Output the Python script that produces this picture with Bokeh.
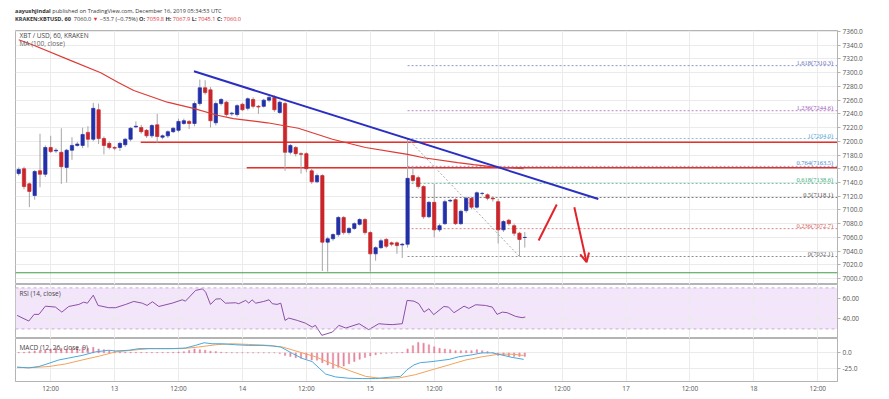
from bokeh.plotting import figure
from bokeh.layouts import column
from bokeh.models import (Range1d, FixedTicker, Span, Label, Div, Arrow, OpenHead,
                          ColumnDataSource, BoxAnnotation, PrintfTickFormatter)
from bokeh.embed import file_html
from bokeh.resources import INLINE

FONT = "Open Sans"

# ---------------- data (hours relative to Dec 13 00:00 UTC) ----------------
hours = list(range(-18, 78))
opens = [7153, 7160, 7138, 7121, 7157, 7152, 7191, 7186, 7184, 7162, 7187, 7194, 7194, 7213, 7203, 7246,
         7204, 7197, 7191, 7191, 7195, 7203, 7221, 7220, 7216, 7208, 7224, 7206, 7208, 7214, 7216, 7226,
         7229, 7226, 7255, 7278, 7275, 7227, 7255, 7257, 7240, 7239, 7254, 7248, 7261, 7251, 7251, 7260,
         7264, 7242, 7255, 7184, 7191, 7182, 7182, 7157, 7141, 7150, 7053, 7058, 7064, 7089, 7067, 7073,
         7079, 7086, 7067, 7036, 7045, 7057, 7052, 7052, 7049, 7050, 7150, 7147, 7134, 7090, 7111, 7071,
         7080, 7113, 7115, 7080, 7099, 7117, 7104, 7124, 7122, 7117, 7112, 7071, 7085, 7077, 7066, 7059.8]
highs = [7162, 7163, 7140, 7158, 7211, 7194, 7208, 7190, 7219, 7189, 7206, 7199, 7220, 7222, 7256, 7255,
         7207, 7200, 7193, 7199, 7205, 7221, 7229, 7224, 7218, 7225, 7240, 7210, 7216, 7221, 7233, 7233,
         7231, 7258, 7290, 7289, 7279, 7258, 7263, 7259, 7243, 7254, 7256, 7264, 7264, 7253, 7262, 7268,
         7267, 7259, 7258, 7196, 7193, 7184, 7184, 7160, 7153, 7152, 7061, 7066, 7091, 7091, 7075, 7082,
         7088, 7088, 7069, 7047, 7058, 7059, 7054, 7054, 7052, 7204, 7162, 7150, 7136, 7113, 7138, 7080,
         7115, 7116, 7117, 7100, 7119, 7119, 7127, 7126, 7124, 7120, 7116, 7085, 7087, 7080, 7068, 7067.9]
lows = [7150, 7130, 7104, 7115, 7133, 7148, 7183, 7183, 7138, 7140, 7173, 7192, 7190, 7191, 7200, 7196,
        7181, 7188, 7187, 7186, 7192, 7200, 7219, 7211, 7205, 7205, 7198, 7203, 7205, 7212, 7213, 7224,
        7218, 7222, 7252, 7268, 7220, 7223, 7252, 7236, 7237, 7236, 7244, 7245, 7248, 7240, 7249, 7257,
        7243, 7240, 7157, 7181, 7178, 7153, 7155, 7138, 7139, 7011, 7010, 7055, 7061, 7064, 7064, 7071,
        7077, 7064, 7010, 7026, 7043, 7044, 7047, 7036, 7030, 7045, 7140, 7131, 7087, 7088, 7060, 7068,
        7078, 7111, 7078, 7078, 7096, 7101, 7102, 7121, 7114, 7112, 7051, 7068, 7077, 7062, 7032.1, 7045.1]
closes = [7159, 7134, 7127, 7156, 7152, 7191, 7185, 7187, 7163, 7187, 7194, 7196, 7210, 7203, 7248, 7204,
          7194, 7191, 7190, 7197, 7203, 7219, 7222, 7214, 7208, 7223, 7207, 7208, 7214, 7219, 7229, 7230,
          7226, 7255, 7278, 7271, 7230, 7255, 7261, 7239, 7241, 7252, 7246, 7262, 7251, 7250, 7260, 7264,
          7246, 7257, 7184, 7194, 7182, 7181, 7160, 7141, 7150, 7053, 7058, 7064, 7089, 7067, 7073, 7080,
          7086, 7067, 7036, 7045, 7055, 7047, 7050, 7048, 7050, 7146, 7143, 7134, 7090, 7111, 7071, 7077,
          7112, 7114, 7080, 7098, 7117, 7104, 7125, 7124, 7117, 7116, 7071, 7083, 7080, 7066, 7057, 7060.0]

ma_hours = [-18, -15.2, -8.3, -2.6, 0.6, 3.6, 9.9, 14.8, 19.3, 22.3, 28.7, 34.5, 40.9, 47.1, 52.7, 55,
            58, 64.4, 67.4, 70.6, 76.8]
ma_values = [7348, 7340, 7318, 7300, 7286, 7274, 7257, 7248, 7238, 7233, 7227, 7219, 7203, 7191, 7184,
             7181, 7176, 7169, 7166, 7163, 7160]

rsi_hours = [-18.3, -16.1, -15.1, -14.2, -13.0, -11.1, -9.9, -8.6, -6.7, -5.8, -5.1, -4.0, -3.1, -1.1, 0.2,
             2.1, 3.6, 5.2, 6.1, 7.1, 8.3, 10.8, 12.7, 13.3, 15.2, 16.5, 17.1, 18.0, 19.0, 19.9, 20.8, 22.7,
             23.3, 24.6, 25.2, 25.8, 26.5, 28.0, 29.0, 29.6, 30.5, 31.2, 32.0, 32.7, 34.3, 35.8, 37.1, 37.7,
             38.9, 40.9, 42.1, 43.4, 45.9, 47.7, 49.6, 50.9, 52.1, 54.0, 54.9, 56.2, 57.1, 58.1, 59.0, 59.9,
             61.8, 62.7, 63.7, 65.6, 66.5, 67.8, 69.6, 70.9, 71.8, 72.8, 73.7, 75.3, 76.5, 77.1]
rsi_values = [43.2, 37.7, 44.2, 44.2, 52.2, 51.3, 46.4, 51.9, 53.9, 56.1, 55.1, 62.9, 52.9, 50.7, 50.7,
              53.9, 56.8, 55.1, 52.9, 56.5, 51.9, 55.1, 58.4, 57.1, 67.5, 69.1, 65.8, 53.9, 59.1, 59.4, 55.1,
              55.5, 54.6, 57.8, 55.1, 58.4, 55.1, 56.8, 58.4, 54.6, 53.9, 55.1, 38.3, 40.6, 38.3, 35.7, 31.8,
              33.5, 23.8, 27.0, 33.5, 30.9, 35.1, 29.3, 35.1, 34.5, 34.2, 35.1, 57.8, 57.1, 54.6, 46.4, 49.7,
              43.9, 51.9, 51.3, 45.8, 52.2, 50.0, 53.6, 52.9, 51.3, 44.2, 46.4, 45.8, 42.2, 41.0, 41.6]

macd_hours = [-18.3, -16.1, -14.2, -12.3, -10.5, -8.0, -6.1, -3.6, -1.1, 0.2, 2.7, 4.6, 7.7, 10.8, 13.3,
              15.2, 16.8, 18.3, 20.2, 22.7, 25.2, 27.7, 29.6, 31.2, 33.4, 35.2, 37.1, 38.4, 39.6, 41.5,
              44.0, 46.5, 49.0, 51.5, 53.7, 54.9, 56.2, 57.4, 59.0, 60.9, 62.8, 64.6, 67.1, 69.0, 70.9,
              72.8, 74.6, 76.8]
macd_values = [-22.9, -23.9, -21.8, -16.6, -11.4, -7.2, -4.1, 1.6, 4.2, 3.1, 4.2, 6.8, 6.8, 6.8, 7.8,
               12.0, 16.2, 14.6, 14.6, 13.0, 12.0, 12.0, 11.0, 9.4, -1.0, -8.8, -14.0, -24.4, -33.8, -38.5,
               -40.6, -41.1, -41.1, -39.0, -37.5, -27.0, -19.2, -15.6, -14.5, -12.5, -10.4, -6.2, -3.1,
               0.0, 0.0, -3.6, -7.2, -10.4]
signal_hours = [-18.3, -16.1, -12.3, -9.2, -6.1, -2.9, 0.2, 3.3, 6.4, 9.6, 12.7, 15.8, 19.0, 22.1, 25.2,
                29.0, 31.5, 34.6, 37.7, 40.9, 44.0, 47.1, 50.2, 53.4, 56.5, 59.6, 62.8, 65.9, 69.0, 72.1,
                74.6, 76.8]
signal_values = [-22.9, -23.9, -21.8, -17.7, -11.4, -5.2, 1.6, 4.2, 6.8, 6.8, 6.8, 9.4, 13.0, 14.6, 13.5,
                 12.0, 9.4, 1.6, -6.2, -17.7, -28.1, -37.5, -41.1, -40.1, -34.8, -27.0, -19.2, -11.4,
                 -6.2, -2.1, -2.1, -4.1]
hist_values = [0.5, 1.0, 2.0, 3.0, 4.0, 5.0,
               6.3, 7.3, 7.3, 6.3, 7.3, 8.9, 8.9, 7.3, 8.9, 6.3, 5.2, 3.6, 2.6,
               1.5, 1.0, 1.0, 0.8, 0.8, 0.6, 0.6, 0.6, 0.8, 0.8, 1.0, 1.5,
               2.0, 4.0, 6.3, 5.2, 4.2, 2.6, 2.1,
               1.0, 0.6, 0.4, 0.3, 0.2, 0.2, 0.2, 0.1, 0.2, 0.2, 0.2,
               -1.0, -4.0, -5.8, -7.6, -8.4, -9.5, -11.3, -11.7, -15.7, -19.3, -24.8, -23.0, -21.1,
               -17.5, -13.9, -10.2, -7.3, -4.8, -2.9, -1.4, -0.7, -0.4, 0.3, 1.0,
               6.3, 11.5, 16.7, 15.6, 13.0, 9.9, 7.3, 6.3, 5.2, 3.6, 3.6, 3.6, 3.6, 5.2, 3.6, 2.1, 0.5,
               -4.2, -4.2, -5.2, -5.7, -5.7, -5.7]

price_ticks = [7000, 7020, 7040, 7060, 7080, 7100, 7120, 7140, 7160, 7180, 7200, 7220, 7240, 7260,
               7280, 7300, 7320, 7340, 7360]
rsi_ticks = [40, 60]
macd_ticks = [-25, 0]
time_ticks = [-12, 0, 12, 24, 36, 48, 60, 72, 84, 96, 108, 120, 132]
time_labels = ["12:00", "13", "12:00", "14", "12:00", "15", "12:00", "16", "12:00", "17", "12:00", "18", "12:00"]

fib_ratios = ["1.618", "1.236", "1", "0.764", "0.618", "0.5", "0.236", "0"]
fib_prices = [7310.3, 7244.6, 7204.0, 7163.5, 7138.6, 7118.1, 7072.7, 7032.1]
fib_colors = ["#6874bb", "#a25cc2", "#5aa8d6", "#4a8bcc", "#3cae7c", "#555555", "#cf5f5c", "#6a6a6a"]
fib_start_hour = 55

level_prices = [7198.6, 7161.5]
level_start_hours = [4.9, 24.8]
support_price = 7008.4

trend_hours = [14.9, 90.8]
trend_prices = [7302, 7116]
fib_diag_hours = [55, 76]
fib_diag_prices = [7204.0, 7032.1]
up_arrow_hours = [79.6, 83.0]
up_arrow_prices = [7055.4, 7107.9]
down_arrow_hours = [86.3, 88.6]
down_arrow_prices = [7103.9, 7023.8]

last_price = 7060.0
countdown = "25:12"

# ---------------- layout constants ----------------
X0, X1 = -18.6, 135.7
xr = Range1d(X0, X1)
LB, RB = 15, 28
FRAME_W = 822
W = LB + FRAME_W + RB
GRID = "#ebebeb"
FRAME = "#b4b4b4"
TXT = "#555555"
BLUE = "#2330a8"
RED = "#c9262b"


def make_fig(h, y0, y1, top, bottom, xaxis):
    p = figure(width=W, height=h, x_range=xr, y_range=Range1d(y0, y1),
               output_backend="svg", toolbar_location=None,
               x_axis_location="below" if xaxis else None, y_axis_location="right",
               min_border_left=LB, min_border_right=RB,
               min_border_top=top, min_border_bottom=bottom)
    p.outline_line_color = FRAME
    p.background_fill_color = "white"
    p.border_fill_color = "white"
    p.xgrid.ticker = FixedTicker(ticks=time_ticks)
    p.xgrid.grid_line_color = GRID
    return p


def style_yaxis(p, ticks, fmt):
    ax = p.yaxis[0]
    ax.ticker = FixedTicker(ticks=ticks)
    ax.formatter = PrintfTickFormatter(format=fmt)
    ax.axis_line_color = FRAME
    ax.major_tick_line_color = FRAME
    ax.major_tick_in = 0
    ax.major_tick_out = 3
    ax.minor_tick_line_color = None
    ax.minor_tick_in = 0
    ax.minor_tick_out = 0
    ax.major_label_text_font = FONT
    ax.major_label_text_font_size = "6.5px"
    ax.major_label_text_color = TXT
    ax.major_label_standoff = 2
    p.ygrid.ticker = FixedTicker(ticks=ticks)
    p.ygrid.grid_line_color = GRID


def corner_label(p, text, y_from_top, frame_h, color="#444444"):
    p.add_layout(Label(x=4, y=frame_h - y_from_top, x_units="screen", y_units="screen", text=text,
                       text_font=FONT, text_font_size="6.5px", text_color=color,
                       text_baseline="middle", text_align="left"))


# ---------------- header ----------------
R = "#e0313b"
header_html = (
    f'<div style="font-family:\'{FONT}\';font-size:5.6px;line-height:8px;color:#333;'
    'white-space:nowrap;margin:7px 0 0 15px;padding:0;">'
    '<b>aayushjindal</b> published on TradingView.com, December 16, 2019 05:34:53 UTC<br>'
    '<b>KRAKEN:XBTUSD, 60</b>&nbsp; 7060.0 '
    f'<span style="color:{R}">&#9660;</span> &minus;53.7 (&minus;0.75%) '
    f'<b>O:</b> <span style="color:{R}">7059.8</span> <b>H:</b> <span style="color:{R}">7067.9</span> '
    f'<b>L:</b> <span style="color:{R}">7045.1</span> <b>C:</b> <span style="color:{R}">7060.0</span>'
    '</div>'
)
header = Div(text=header_html, width=W, height=24, margin=(0, 0, 0, 0))

# ---------------- main price panel ----------------
MAIN_FRAME_H = 254
p1 = make_fig(MAIN_FRAME_H + 6, 6991.3, 7361.5, 6, 0, False)
style_yaxis(p1, price_ticks, "%.1f")

tops = [max(o, c) for o, c in zip(opens, closes)]
bottoms = [min(o, c) for o, c in zip(opens, closes)]
colors = [BLUE if c >= o else RED for o, c in zip(opens, closes)]
src = ColumnDataSource(dict(x=hours, high=highs, low=lows, top=tops, bottom=bottoms, color=colors))

p1.segment(x0=fib_start_hour, y0=fib_prices, x1=X1, y1=fib_prices, line_color=fib_colors,
           line_dash="2 2", line_alpha=0.75, line_width=1)
p1.add_layout(Span(location=support_price, dimension="width", line_color="#3c9f45", line_width=1.2))
p1.segment(x0=level_start_hours, y0=level_prices, x1=X1, y1=level_prices, line_color="#e8302a",
           line_width=1.6)
p1.line(fib_diag_hours, fib_diag_prices, line_color="#a8a8a8", line_dash="2 2", line_width=1)
p1.segment(x0="x", y0="high", x1="x", y1="low", source=src, line_color="#a6a6a6", line_width=1)
p1.vbar(x="x", width=0.62, top="top", bottom="bottom", fill_color="color", line_color="color",
        line_width=0.7, source=src)
p1.line(ma_hours, ma_values, line_color="#de3b36", line_width=1.2)
p1.line(trend_hours, trend_prices, line_color="#2a2fc2", line_width=2)
p1.line(up_arrow_hours, up_arrow_prices, line_color="#e0242a", line_width=2)
p1.add_layout(Arrow(end=OpenHead(size=9, line_color="#e0242a", line_width=2),
                    x_start=down_arrow_hours[0], y_start=down_arrow_prices[0],
                    x_end=down_arrow_hours[1], y_end=down_arrow_prices[1],
                    line_color="#e0242a", line_width=2))

fib_texts = [f"{r}({v:.1f})" for r, v in zip(fib_ratios, fib_prices)]
p1.text(x=X1 - 0.8, y=fib_prices, text=fib_texts, text_align="right", text_baseline="bottom",
        text_font=FONT, text_font_size="6.5px", text_color=fib_colors)

for price, color in [(level_prices[0], "#e8231f"), (level_prices[1], "#e8231f"),
                     (last_price, "#1f25d6"), (support_price, "#35a043")]:
    p1.add_layout(Label(x=X1, y=price, text=f"{price:.1f}", x_offset=1, text_align="left",
                        text_baseline="middle", text_font=FONT, text_font_size="6.5px",
                        text_color="white", background_fill_color=color, padding=1))
p1.add_layout(Label(x=X1, y=last_price, y_offset=-8, text=countdown, x_offset=4, text_align="left",
                    text_baseline="middle", text_font=FONT, text_font_size="6.5px",
                    text_color="white", background_fill_color="#1f25d6", padding=1))

corner_label(p1, "XBT / USD, 60, KRAKEN", 4.5, MAIN_FRAME_H)
corner_label(p1, "MA (100, close)", 12.7, MAIN_FRAME_H, "#666666")

# ---------------- RSI panel ----------------
RSI_FRAME_H = 54
p2 = make_fig(RSI_FRAME_H, 20.7, 73.3, 0, 0, False)
style_yaxis(p2, rsi_ticks, "%.2f")
p2.add_layout(BoxAnnotation(bottom=30, top=70, fill_color="#f3e6fb", fill_alpha=1, line_color=None,
                            level="image"))
for lvl in (30, 70):
    p2.add_layout(Span(location=lvl, dimension="width", line_color="#c4aed2", line_dash="3 3",
                       line_width=1))
p2.line(rsi_hours, rsi_values, line_color="#8b4fa6", line_width=1)
corner_label(p2, "RSI (14, close)", 9.3, RSI_FRAME_H)

# ---------------- MACD panel ----------------
MACD_FRAME_H = 44
p3 = make_fig(MACD_FRAME_H + 13, -45.8, 23.0, 0, 13, True)
style_yaxis(p3, macd_ticks, "%.1f")
p3.vbar(x=hours, width=0.25, top=hist_values, bottom=0, fill_color="#e8869f", line_color="#e8869f",
        line_width=0.5)
p3.line(signal_hours, signal_values, line_color="#f2a35c", line_width=1)
p3.line(macd_hours, macd_values, line_color="#4aa8dc", line_width=1)
xa = p3.xaxis[0]
xa.ticker = FixedTicker(ticks=time_ticks)
xa.major_label_overrides = {t: lab for t, lab in zip(time_ticks, time_labels)}
xa.major_tick_line_color = None
xa.minor_tick_line_color = None
xa.major_tick_in = 0
xa.major_tick_out = 0
xa.minor_tick_in = 0
xa.minor_tick_out = 0
xa.axis_line_color = FRAME
xa.major_label_standoff = 2
xa.major_label_text_font = FONT
xa.major_label_text_font_size = "6.5px"
xa.major_label_text_color = TXT
corner_label(p3, "MACD (12, 26, close, 9)", 9.5, MACD_FRAME_H)

layout = column(header, p1, p2, p3, spacing=0)
open("out.html", "w").write(file_html(layout, INLINE))
